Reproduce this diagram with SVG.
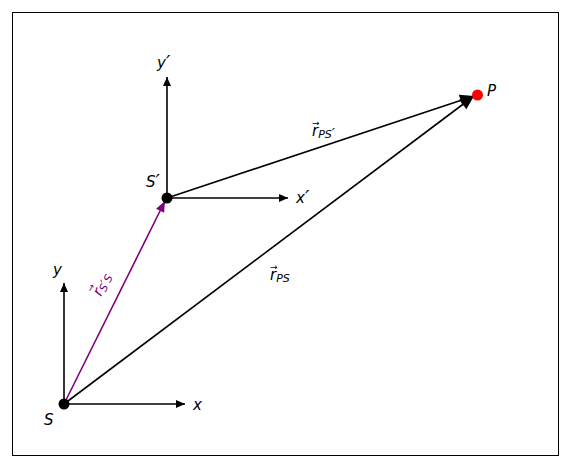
<svg xmlns="http://www.w3.org/2000/svg" width="571" height="468" viewBox="0 0 571 468">
<style>
.t{font-family:"DejaVu Sans",sans-serif;font-style:italic;font-size:15px;fill:#000}
.sub{font-size:11px}
.pr{font-size:19px}
.prs{font-size:14px}
.va{font-family:"DejaVu Sans",sans-serif;font-style:normal;font-size:9px}
.ax{stroke:#000;stroke-width:1.6;fill:none}
.vec{stroke:#000;stroke-width:1.6;fill:none}
.pv{stroke:#800080;stroke-width:1.6;fill:none}
</style>
<defs>
<marker id="ah" markerUnits="userSpaceOnUse" markerWidth="10" markerHeight="8" refX="9" refY="4" orient="auto" overflow="visible"><path d="M0,0 L9,4 L0,8 z" fill="#000"/></marker>
<marker id="big" markerUnits="userSpaceOnUse" markerWidth="15" markerHeight="12" refX="14" refY="6" orient="auto" overflow="visible"><path d="M0,0 L14,6 L0,12 z" fill="#000"/></marker>
<marker id="pur" markerUnits="userSpaceOnUse" markerWidth="12" markerHeight="10" refX="11" refY="4.5" orient="auto" overflow="visible"><path d="M0,0 L11,4.5 L0,9 z" fill="#800080"/></marker>
</defs>
<rect x="12.5" y="12.5" width="546" height="443" fill="#fff" stroke="#000" stroke-width="1"/>
<g id="connectors">
<line class="ax" x1="64" y1="404" x2="185" y2="404" marker-end="url(#ah)"/>
<line class="ax" x1="64" y1="404" x2="64" y2="283" marker-end="url(#ah)"/>
<line class="ax" x1="167" y1="198" x2="288" y2="198" marker-end="url(#ah)"/>
<line class="ax" x1="167" y1="198" x2="167" y2="77" marker-end="url(#ah)"/>
<line class="vec" x1="64" y1="404" x2="474" y2="96" marker-end="url(#big)"/>
<line class="vec" x1="167" y1="198" x2="474" y2="96" marker-end="url(#big)"/>
<line class="pv" x1="64" y1="404" x2="165" y2="201" marker-end="url(#pur)"/>
</g>
<g id="node-S">
<circle cx="64" cy="404" r="5.5" fill="#000"/>
<text class="t" x="44" y="425">S</text>
<text class="t" x="193" y="410">x</text>
<text class="t" x="53" y="275">y</text>
</g>
<g id="node-Sprime">
<circle cx="167" cy="198" r="5.5" fill="#000"/>
<text class="t" x="146" y="187">S<tspan class="pr" dy="1">′</tspan></text>
<text class="t" x="296" y="203">x<tspan class="pr" dy="1">′</tspan></text>
<text class="t" x="157" y="68">y<tspan class="pr" dy="1">′</tspan></text>
</g>
<g id="node-P">
<circle cx="477.5" cy="95" r="5.5" fill="#ff0000"/>
<text class="t" x="487" y="96">P</text>
</g>
<g id="label-rPSp">
<text class="va" x="312" y="126">→</text>
<text class="t" x="312" y="136">r<tspan class="sub" dy="2">PS</tspan><tspan class="prs" dy="0">′</tspan></text>
</g>
<g id="label-rPS">
<text class="va" x="270" y="270">→</text>
<text class="t" x="270" y="280">r<tspan class="sub" dy="2">PS</tspan></text>
</g>
<g id="label-rSpS" transform="translate(101,297) rotate(-63.4)" style="fill:#800080">
<text class="va" x="0" y="-10" style="fill:#800080">→</text>
<text class="t" style="fill:#800080">r<tspan class="sub" dy="2">S</tspan><tspan class="prs">′</tspan><tspan class="sub">S</tspan></text>
</g>
</svg>
